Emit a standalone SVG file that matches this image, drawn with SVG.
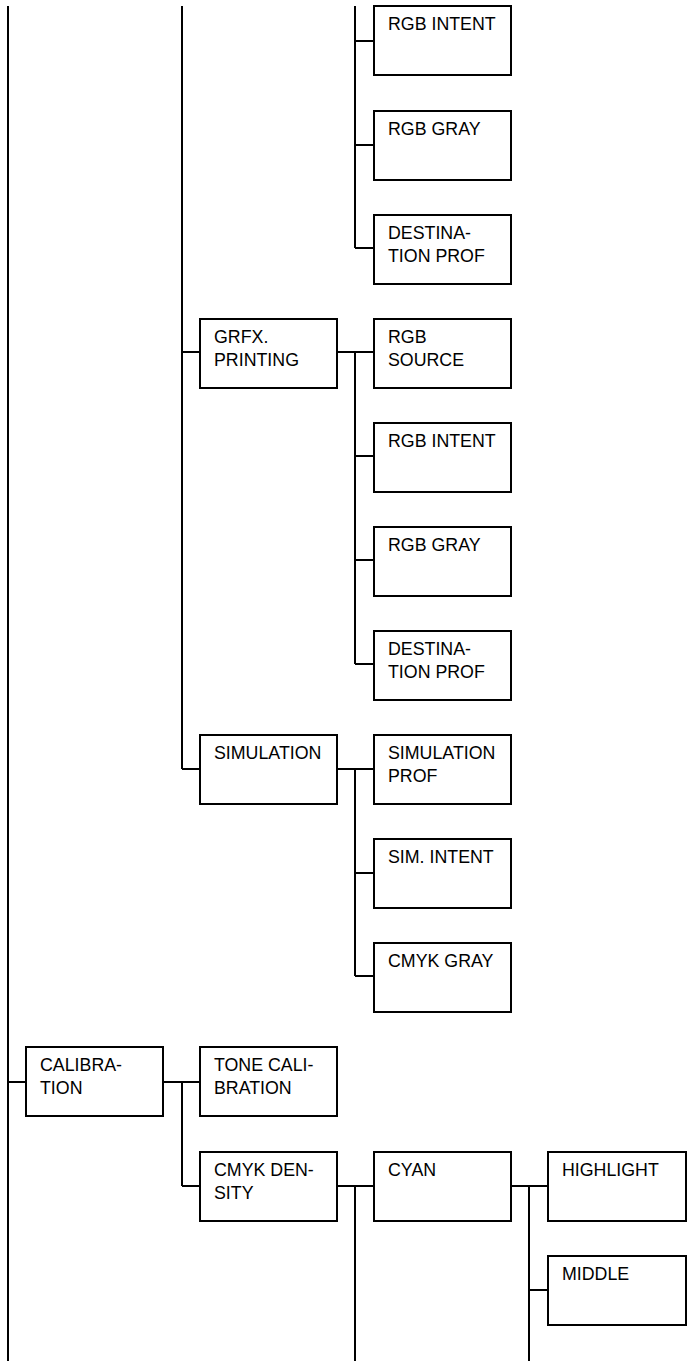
<svg xmlns="http://www.w3.org/2000/svg" width="691" height="1361" viewBox="0 0 691 1361">
<style>
.b{fill:#fff;stroke:#000;stroke-width:2}
.t{font-family:"Liberation Sans",Arial,sans-serif;font-size:17.8px;fill:#000}
.c{fill:none;stroke:#000;stroke-width:2}
</style>
<rect width="691" height="1361" fill="#fff"/>
<g id="connectors" class="c">
<path d="M8 6V1361M8 1082H26"/>
<path d="M182 6V769M182 352H200M182 769H200"/>
<path d="M355 6V248M355 41H374M355 145H374M355 248H374"/>
<path d="M337 352H374M355 352V664M355 456H374M355 560H374M355 664H374"/>
<path d="M337 769H374M355 769V976M355 873H374M355 976H374"/>
<path d="M163 1082H200M182 1082V1186M182 1186H200"/>
<path d="M337 1186H374M355 1186V1361"/>
<path d="M511 1186H548M529 1186V1361M529 1290H548"/>
</g>
<g id="n-rgb-intent-1"><rect class="b" x="374" y="6" width="137" height="69"/><text class="t" x="388" y="29.5">RGB INTENT</text></g>
<g id="n-rgb-gray-1"><rect class="b" x="374" y="111" width="137" height="69"/><text class="t" x="388" y="134.5">RGB GRAY</text></g>
<g id="n-dest-prof-1"><rect class="b" x="374" y="215" width="137" height="69"/><text class="t" x="388" y="238.5">DESTINA-</text><text class="t" x="388" y="261.5">TION PROF</text></g>
<g id="n-grfx-printing"><rect class="b" x="200" y="319" width="137" height="69"/><text class="t" x="214" y="342.5">GRFX.</text><text class="t" x="214" y="365.5">PRINTING</text></g>
<g id="n-rgb-source"><rect class="b" x="374" y="319" width="137" height="69"/><text class="t" x="388" y="342.5">RGB</text><text class="t" x="388" y="365.5">SOURCE</text></g>
<g id="n-rgb-intent-2"><rect class="b" x="374" y="423" width="137" height="69"/><text class="t" x="388" y="446.5">RGB INTENT</text></g>
<g id="n-rgb-gray-2"><rect class="b" x="374" y="527" width="137" height="69"/><text class="t" x="388" y="550.5">RGB GRAY</text></g>
<g id="n-dest-prof-2"><rect class="b" x="374" y="631" width="137" height="69"/><text class="t" x="388" y="654.5">DESTINA-</text><text class="t" x="388" y="677.5">TION PROF</text></g>
<g id="n-simulation"><rect class="b" x="200" y="735" width="137" height="69"/><text class="t" x="214" y="758.5">SIMULATION</text></g>
<g id="n-simulation-prof"><rect class="b" x="374" y="735" width="137" height="69"/><text class="t" x="388" y="758.5">SIMULATION</text><text class="t" x="388" y="781.5">PROF</text></g>
<g id="n-sim-intent"><rect class="b" x="374" y="839" width="137" height="69"/><text class="t" x="388" y="862.5">SIM. INTENT</text></g>
<g id="n-cmyk-gray"><rect class="b" x="374" y="943" width="137" height="69"/><text class="t" x="388" y="966.5">CMYK GRAY</text></g>
<g id="n-calibration"><rect class="b" x="26" y="1047" width="137" height="69"/><text class="t" x="40" y="1070.5">CALIBRA-</text><text class="t" x="40" y="1093.5">TION</text></g>
<g id="n-tone-calibration"><rect class="b" x="200" y="1047" width="137" height="69"/><text class="t" x="214" y="1070.5">TONE CALI-</text><text class="t" x="214" y="1093.5">BRATION</text></g>
<g id="n-cmyk-density"><rect class="b" x="200" y="1152" width="137" height="69"/><text class="t" x="214" y="1175.5">CMYK DEN-</text><text class="t" x="214" y="1198.5">SITY</text></g>
<g id="n-cyan"><rect class="b" x="374" y="1152" width="137" height="69"/><text class="t" x="388" y="1175.5">CYAN</text></g>
<g id="n-highlight"><rect class="b" x="548" y="1152" width="138" height="69"/><text class="t" x="562" y="1175.5">HIGHLIGHT</text></g>
<g id="n-middle"><rect class="b" x="548" y="1256" width="138" height="69"/><text class="t" x="562" y="1279.5">MIDDLE</text></g>
</svg>
